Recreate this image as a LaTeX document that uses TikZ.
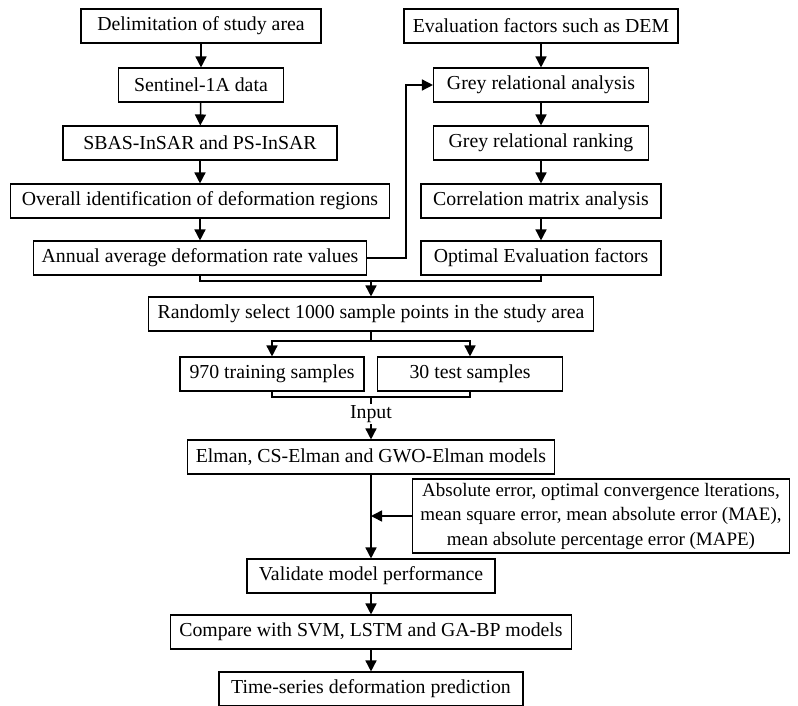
\documentclass[tikz,border=0pt]{standalone}
\usepackage{fontspec}
\setmainfont{Liberation Serif}
\usetikzlibrary{arrows.meta,calc,positioning}

\tikzset{
    stepbox/.style={draw, line width=1.1pt, fill=white, minimum height=34pt,
        inner xsep=8pt, inner ysep=2pt, font=\fontsize{19.8}{24}\selectfont},
    arr/.style={line width=1.5pt, -{Triangle[length=11pt,width=11pt]}},
    ln/.style={line width=1.5pt}
}

\begin{document}
\begin{tikzpicture}[x=1pt, y=-1pt]
            \useasboundingbox (0,0) rectangle (798,706);
            % Left column: deformation monitoring
            \node[stepbox, minimum width=240pt] (del)  at (201, 26)  {Delimitation of study area};
            \node[stepbox, minimum width=165pt] (sen)  at (201, 85)  {Sentinel-1A data};
            \node[stepbox, minimum width=274pt] (sbas) at (200, 143) {SBAS-InSAR and PS-InSAR};
            \node[stepbox, minimum width=379pt] (over) at (200, 201) {Overall identification of deformation regions};
            \node[stepbox, minimum width=333pt] (ann)  at (200, 258) {Annual average deformation rate values};
            
            % Right column: evaluation factors
            \node[stepbox, minimum width=274pt] (eva) at (541, 26)  {Evaluation factors such as DEM};
            \node[stepbox, minimum width=215pt] (gra) at (541, 85)  {Grey relational analysis};
            \node[stepbox, minimum width=215pt] (grr) at (541, 143) {Grey relational ranking};
            \node[stepbox, minimum width=240pt] (cor) at (541, 201) {Correlation matrix analysis};
            \node[stepbox, minimum width=240pt] (opt) at (541, 258) {Optimal Evaluation factors};
            
            \foreach \a/\b in {del/sen, sen/sbas, sbas/over, over/ann, eva/gra, gra/grr, grr/cor, cor/opt} {
                \draw[arr] (\a) -- (\b);
            }
            \draw[arr] (ann.east) -- ++(39,0) |- (gra.west);
            
            % Sampling
            \node[stepbox, minimum width=445pt] (rand) at (371, 314) {Randomly select 1000 sample points in the study area};
            \coordinate (mrg) at (371, 281);
            \draw[ln] (ann.south) |- (mrg) -| (opt.south);
            \draw[arr] (mrg) -- (rand.north);
            
            \node[stepbox, minimum width=184pt] (train) at (272, 374) {970 training samples};
            \node[stepbox, minimum width=185pt] (test) at (470, 374) {30 test samples};
            \coordinate (spl) at (371, 341);
            \draw[ln] (rand.south) -- (spl);
            \draw[arr] (spl) -| (train.north);
            \draw[arr] (spl) -| (test.north);
            
            % Models
            \node[font=\fontsize{19.8}{24}\selectfont, inner sep=1pt] (inp) at (371, 414) {Input};
            \coordinate (jn) at (371, 397);
            \draw[ln] (train.south) |- (jn) -| (test.south);
            \draw[ln] (jn) -- (inp.north);
            \node[stepbox, minimum width=366pt] (elm) at (371, 457) {Elman, CS-Elman and GWO-Elman models};
            \draw[arr] (inp.south) -- (elm.north);
            
            \node[stepbox, align=center, inner xsep=7pt, minimum width=377pt, minimum height=74pt,
                font=\fontsize{19}{24.5}\selectfont] (err) at (601, 516)
                {Absolute error, optimal convergence lterations,\\mean square error, mean absolute error (MAE),\\mean absolute percentage error (MAPE)};
            \node[stepbox, minimum width=248pt] (val) at (371, 576) {Validate model performance};
            \draw[arr] (elm) -- (val);
            \draw[arr] (err.west) -- (err.west -| elm.south);
            
            \node[stepbox, minimum width=401pt] (cmp) at (371, 632) {Compare with SVM, LSTM and GA-BP models};
            \node[stepbox, minimum width=304pt] (tsp) at (371, 689) {Time-series deformation prediction};
            \draw[arr] (val) -- (cmp);
            \draw[arr] (cmp) -- (tsp);
            
        \end{tikzpicture}
\end{document}
